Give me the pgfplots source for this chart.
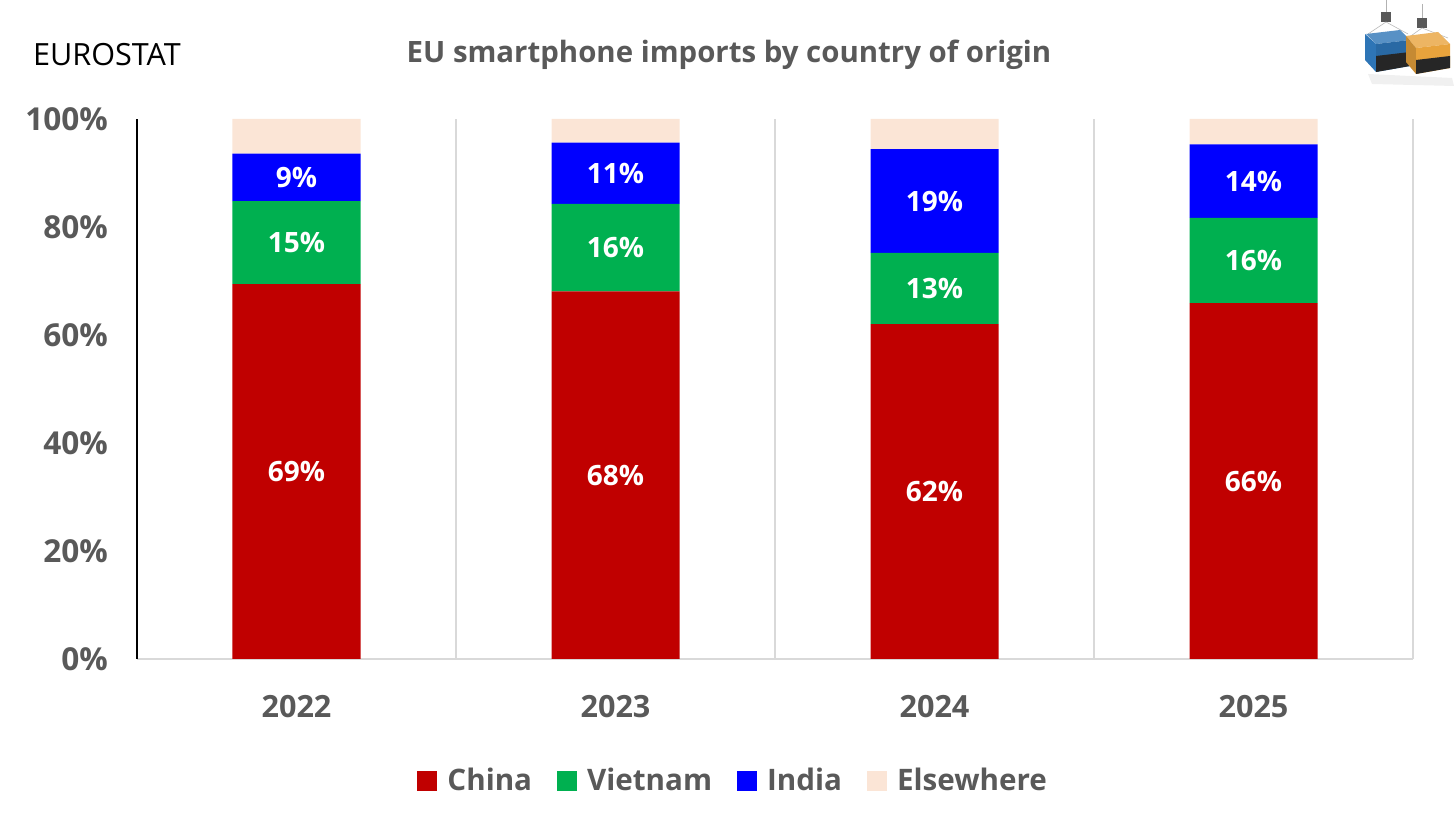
\documentclass[border=0pt]{standalone}
\usepackage{pgfplots}
\pgfplotsset{compat=1.18}
\usepackage{pgfplotstable}
\usepackage{fontspec}
\setmainfont{Open Sans}
\definecolor{cChina}{HTML}{C00000}
\definecolor{cViet}{HTML}{00B050}
\definecolor{cIndia}{HTML}{0000FF}
\definecolor{cElse}{HTML}{FBE5D6}
\definecolor{txt}{HTML}{595959}
\definecolor{gridc}{HTML}{D9D9D9}
\definecolor{logoblue}{HTML}{2E75B6}
\definecolor{logoorange}{HTML}{E8A33C}
\pgfplotstableread{
x china vietnam india elsewhere
0 69.4 15.4 8.8 6.4
1 68.1 16.2 11.3 4.4
2 62.0 13.2 19.2 5.6
3 65.9 15.8 13.6 4.7
}\data
\begin{document}
\begin{tikzpicture}[x=1pt,y=1pt]
\path[use as bounding box] (0,0) rectangle (728,417);
\begin{axis}[
  at={(68.5pt,87.5pt)}, anchor=south west,
  scale only axis, width=638pt, height=270pt,
  ybar stacked, bar width=64pt,
  xmin=-0.5, xmax=3.5, ymin=0, ymax=100,
  xtick={0,1,2,3}, xticklabels={2022,2023,2024,2025},
  minor xtick={0.5,1.5,2.5,3.5},
  xminorgrids, minor grid style={gridc, line width=1pt},
  ytick={0,20,...,100},
  yticklabel={\pgfmathprintnumber{\tick}\%},
  /pgf/number format/assume math mode=true,
  axis x line*=bottom, axis y line*=left,
  x axis line style={gridc, line width=1pt},
  y axis line style={black, line width=1pt},
  tick style={draw=none},
  ticklabel style={font=\bfseries\fontsize{15.3}{18}\selectfont, text=txt},
  yticklabel style={font=\bfseries\fontsize{15.8}{18}\selectfont, xshift=-11pt},
  xticklabel style={yshift=-14.5pt},
  legend image code/.code={\fill[#1,draw=none] (0pt,-5pt) rectangle (10pt,5pt);},
  legend style={draw=none, fill=none, at={(0.468,-0.226)}, anchor=center,
    legend columns=4, font=\bfseries\fontsize{14.8}{18}\selectfont, text=txt,
    /tikz/every odd column/.append style={column sep=3pt},
    /tikz/every even column/.append style={column sep=10.5pt}},
  every node near coord/.append style={font=\bfseries\fontsize{14}{17}\selectfont, text=white, anchor=center},
]
\addplot[fill=cChina, draw=none, point meta=explicit,
  nodes near coords={\pgfmathprintnumber[fixed,precision=0]{\pgfplotspointmeta}\%}]
  table[x=x,y=china,meta=china]{\data};
\addplot[fill=cViet, draw=none, point meta=explicit,
  nodes near coords={\pgfmathprintnumber[fixed,precision=0]{\pgfplotspointmeta}\%}]
  table[x=x,y=vietnam,meta=vietnam]{\data};
\addplot[fill=cIndia, draw=none, point meta=explicit,
  nodes near coords={\pgfmathprintnumber[fixed,precision=0]{\pgfplotspointmeta}\%}]
  table[x=x,y=india,meta=india]{\data};
\addplot[fill=cElse, draw=none] table[x=x,y=elsewhere]{\data};
\legend{China,Vietnam,India,Elsewhere}
\end{axis}
\node[anchor=west, font=\fontsize{15.3}{18}\selectfont, text=black] at (13,389.5) {EUROSTAT};
\node[font=\bfseries\fontsize{14.7}{18}\selectfont, text=txt] at (364.5,389.5) {EU smartphone imports by country of origin};
% simple logo (soapbox containers)
\fill[gray!12] (684,380) -- (726,378) -- (727,374) -- (686,375) -- cycle;
\draw[gray!60, line width=0.5pt] (693,417) -- (693,410);
\draw[gray!60, line width=0.5pt] (711,415) -- (711,407);
\fill[black!65] (690.5,406) rectangle (695.5,411);
\fill[black!65] (708.5,403) rectangle (713.5,408);
\draw[gray!55, line width=0.3pt] (693,406) -- (684,400) (693,406) -- (704,400);
\draw[gray!55, line width=0.3pt] (711,403) -- (704,398) (711,403) -- (724,398);
% blue container
\fill[logoblue!80!white] (683,400) -- (700,402) -- (705,397) -- (688,395) -- cycle;
\fill[logoblue] (682.5,400) -- (688,395) -- (688,381) -- (682.5,387) -- cycle;
\fill[logoblue!90!black] (688,395) -- (705,397) -- (705,384) -- (688,381) -- cycle;
\fill[black!85] (688,389) -- (705,391) -- (705,384) -- (688,381) -- cycle;
% orange container
\fill[logoorange!80!white] (703,399) -- (719,401) -- (725,395) -- (708,393) -- cycle;
\fill[logoorange!85!black] (703,399) -- (708,393) -- (708,380) -- (703,386) -- cycle;
\fill[logoorange] (708,393) -- (725,395) -- (725,383) -- (708,380) -- cycle;
\fill[black!85] (708,387) -- (725,389) -- (725,383) -- (708,380) -- cycle;
\end{tikzpicture}
\end{document}
